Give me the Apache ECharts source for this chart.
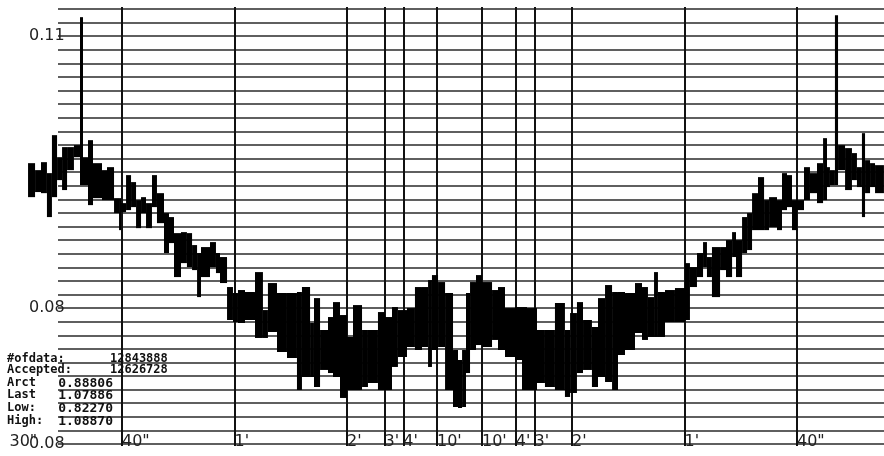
<!DOCTYPE html>
<html><head><meta charset="utf-8">
<script src="https://cdn.jsdelivr.net/npm/echarts@6/dist/echarts.min.js"></script>
<style>html,body{margin:0;padding:0;background:#fff}#c{width:884px;height:456px}</style>
</head><body><div id="c"></div>
<script>
// Frequency bin edges in mHz (signed, spectrum symmetric about 0)
const binEdgesMHz = [-31.96,-31.44,-31.00,-30.56,-30.19,-29.81,-29.44,-29.07,-28.56,-28.11,-27.89,-27.52,-27.15,-26.48,-26.11,-25.59,-25.22,-25.07,-24.70,-24.33,-23.96,-23.59,-23.22,-22.78,-22.41,-21.89,-21.52,-21.15,-20.63,-20.19,-19.81,-19.44,-19.15,-18.48,-18.04,-17.74,-17.22,-16.78,-16.41,-15.89,-15.15,-14.56,-14.19,-13.52,-12.78,-12.04,-11.67,-11.07,-10.78,-10.33,-9.74,-9.37,-8.85,-8.33,-7.89,-7.22,-6.78,-6.04,-5.52,-5.00,-4.56,-3.89,-3.30,-2.78,-2.33,-2.04,-1.59,-1.07,-0.48,-0.11,0.19,0.48,0.78,1.22,1.67,2.41,2.85,3.37,4.11,4.63,5.00,5.74,6.33,7.07,7.81,8.19,8.70,9.15,9.81,10.26,10.78,11.30,11.74,12.26,13.00,13.52,13.96,14.41,14.70,15.22,15.96,16.70,17.07,17.59,18.04,18.33,18.70,19.30,19.74,20.19,20.48,20.93,21.30,21.67,22.11,22.56,22.93,23.52,23.89,24.26,24.63,25.00,25.52,25.96,26.48,26.93,27.22,27.44,27.81,28.04,28.56,29.07,29.44,29.81,30.04,30.41,30.78,31.44];
// Max and min level inside each bin
const binHigh = [0.09599,0.09522,0.09610,0.09489,0.09908,0.09665,0.09776,0.09776,0.09798,0.11210,0.09665,0.09853,0.09599,0.09522,0.09555,0.09213,0.09213,0.09158,0.09467,0.09390,0.09191,0.09224,0.09158,0.09467,0.09268,0.09048,0.09004,0.08827,0.08838,0.08827,0.08695,0.08607,0.08673,0.08728,0.08607,0.08563,0.08232,0.08166,0.08199,0.08177,0.08397,0.07978,0.08276,0.08166,0.08166,0.08177,0.08232,0.07835,0.08110,0.07758,0.07901,0.08066,0.07923,0.07681,0.08033,0.07758,0.07758,0.07956,0.07901,0.08011,0.07978,0.08000,0.08232,0.08232,0.08309,0.08364,0.08287,0.08166,0.07537,0.07427,0.07537,0.08166,0.08287,0.08364,0.08287,0.08199,0.08232,0.08000,0.08011,0.08011,0.08000,0.07758,0.07758,0.08055,0.07758,0.07945,0.08066,0.07868,0.07791,0.08110,0.08254,0.08177,0.08177,0.08166,0.08276,0.08232,0.08121,0.08397,0.08177,0.08199,0.08221,0.08496,0.08452,0.08607,0.08728,0.08563,0.08673,0.08673,0.08750,0.08838,0.08750,0.09004,0.09048,0.09268,0.09445,0.09191,0.09224,0.09191,0.09489,0.09467,0.09191,0.09191,0.09555,0.09489,0.09599,0.09875,0.09555,0.09522,0.11232,0.09798,0.09765,0.09710,0.09555,0.09930,0.09632,0.09599,0.09577];
const binLow = [0.09224,0.09280,0.09268,0.09004,0.09224,0.09412,0.09302,0.09522,0.09665,0.09357,0.09357,0.09136,0.09213,0.09191,0.09191,0.09048,0.08860,0.09059,0.09081,0.09114,0.08882,0.09048,0.08882,0.09114,0.08937,0.08607,0.08717,0.08342,0.08496,0.08452,0.08419,0.08121,0.08342,0.08452,0.08386,0.08276,0.07868,0.07846,0.07835,0.07868,0.07670,0.07670,0.07736,0.07515,0.07449,0.07096,0.07239,0.07239,0.07129,0.07317,0.07283,0.07239,0.07008,0.07096,0.07096,0.07129,0.07173,0.07096,0.07096,0.07350,0.07460,0.07570,0.07537,0.07570,0.07350,0.07537,0.07570,0.07096,0.06908,0.06897,0.06908,0.07283,0.07537,0.07592,0.07570,0.07648,0.07537,0.07460,0.07427,0.07096,0.07096,0.07173,0.07129,0.07096,0.07019,0.07063,0.07283,0.07317,0.07129,0.07239,0.07184,0.07096,0.07482,0.07537,0.07725,0.07648,0.07681,0.07681,0.07681,0.07846,0.07846,0.07868,0.08232,0.08342,0.08452,0.08342,0.08121,0.08419,0.08342,0.08563,0.08342,0.08607,0.08640,0.08860,0.08860,0.08860,0.08893,0.08860,0.09081,0.09114,0.08860,0.09081,0.09191,0.09268,0.09158,0.09191,0.09335,0.09357,0.09357,0.09522,0.09302,0.09412,0.09335,0.09004,0.09268,0.09335,0.09268];

// Period marks (seconds) and their labels
const tauSeconds = [40, 60, 120, 180, 240, 600];
const tauLabels = ['40"', "1'", "2'", "3'", "4'", "10'"];
const edgeTauSeconds = 30;
const edgeTauLabel = '30"';

// Y axis
const yMin = 0.065, yMax = 0.113, yStep = 0.0015;
const yLabelValues = [0.065, 0.08, 0.11];
const yLabelTexts = ['0.08', '0.08', '0.11'];

// X extent in mHz
const xMin = -1000 / edgeTauSeconds;
const xMax = 31.444;

// Statistics block
const statNames = ['#ofdata:', 'Accepted:', 'Arct', 'Last', 'Low:', 'High:'];
const statValues = ['12843888', '12626728', '0.88806', '1.07886', '0.82270', '1.08870'];

const chart = echarts.init(document.getElementById('c'), null, {renderer: 'canvas'});

const data = [];
for (let i = 0; i < binHigh.length; i++) {
  data.push([binEdgesMHz[i], binEdgesMHz[i + 1], binLow[i], binHigh[i]]);
}
const hTicks = [];
for (let i = 0; yMin + i * yStep <= yMax + 1e-9; i++) hTicks.push(+(yMin + i * yStep).toFixed(5));
const vTicks = [];
tauSeconds.forEach(t => { vTicks.push(-1000 / t); });
tauSeconds.slice().reverse().forEach(t => { vTicks.push(1000 / t); });
const vLabelVals = [xMin].concat(vTicks);

function tauLabelFor(v) {
  const a = Math.abs(v);
  if (Math.abs(a - 1000 / edgeTauSeconds) < 1e-3) return edgeTauLabel;
  for (let i = 0; i < tauSeconds.length; i++) {
    if (Math.abs(a - 1000 / tauSeconds[i]) < 1e-3) return tauLabels[i];
  }
  return '';
}
function yLabelFor(v) {
  for (let i = 0; i < yLabelValues.length; i++) {
    if (Math.abs(v - yLabelValues[i]) < 1e-6) return yLabelTexts[i];
  }
  return '';
}

const statsGraphics = [];
const rowY = [360, 371, 384, 396, 409, 422];
statNames.forEach((n, i) => {
  statsGraphics.push({type: 'text', left: 7, top: rowY[i] - 7, z: 100,
    style: {text: n, font: 'bold 12px "DejaVu Sans Mono"', fill: '#111'}});
  if (i < 2) {
    statsGraphics.push({type: 'text', left: 110, top: rowY[i] - 7, z: 100,
      style: {text: statValues[i], font: 'bold 12px "DejaVu Sans Mono"', fill: '#111'}});
  } else {
    statsGraphics.push({type: 'text', right: 884 - 113, top: rowY[i] - 7, z: 100,
      style: {text: statValues[i], font: 'bold 13px "DejaVu Sans Mono"', fill: '#111'}});
  }
});

const option = {
  backgroundColor: '#fff',
  animation: false,
  grid: [
    {left: 9.5, right: 0, top: 9, bottom: 12, outerBoundsMode: 'none'},
    {left: 58, right: 0, top: 9, bottom: 12, outerBoundsMode: 'none'},
    {left: 9.5, right: 0, top: 7, bottom: 10, outerBoundsMode: 'none'}
  ],
  xAxis: [
    {gridIndex: 0, type: 'value', min: xMin, max: xMax, show: false},
    {gridIndex: 1, type: 'value', min: 0, max: 1, show: false},
    {gridIndex: 2, type: 'value', min: xMin, max: xMax,
      axisLine: {show: false},
      axisTick: {show: false, customValues: vTicks},
      splitLine: {show: true, lineStyle: {color: '#111', width: 2}},
      axisLabel: {show: true, customValues: vLabelVals, formatter: tauLabelFor,
        align: 'left', verticalAlign: 'top', margin: -12,
        fontFamily: 'DejaVu Sans', fontSize: 16, color: '#222'}}
  ],
  yAxis: [
    {gridIndex: 0, type: 'value', min: yMin, max: yMax, show: false},
    {gridIndex: 1, type: 'value', min: yMin, max: yMax,
      axisLine: {show: false},
      axisTick: {show: false, customValues: hTicks},
      splitLine: {show: true, lineStyle: {color: '#2a2a2a', width: 1.6}},
      axisLabel: {show: true, customValues: yLabelValues, formatter: yLabelFor,
        align: 'left', verticalAlign: 'middle', margin: 29, padding: [0, 0, 4, 0],
        fontFamily: 'DejaVu Sans', fontSize: 16, color: '#222'}},
    {gridIndex: 2, type: 'value', min: 0, max: 1, show: false}
  ],
  graphic: statsGraphics,
  series: [{
    type: 'custom',
    xAxisIndex: 0, yAxisIndex: 0,
    encode: {x: [0, 1], y: [2, 3]},
    data: data,
    z: 5,
    renderItem: function (params, api) {
      const p1 = api.coord([api.value(0), api.value(3)]);
      const p2 = api.coord([api.value(1), api.value(2)]);
      return {type: 'rect', shape: {x: p1[0], y: p1[1], width: p2[0] - p1[0], height: p2[1] - p1[1]},
        style: {fill: '#000'}};
    }
  }]
};
chart.setOption(option);
</script>
</body></html>
